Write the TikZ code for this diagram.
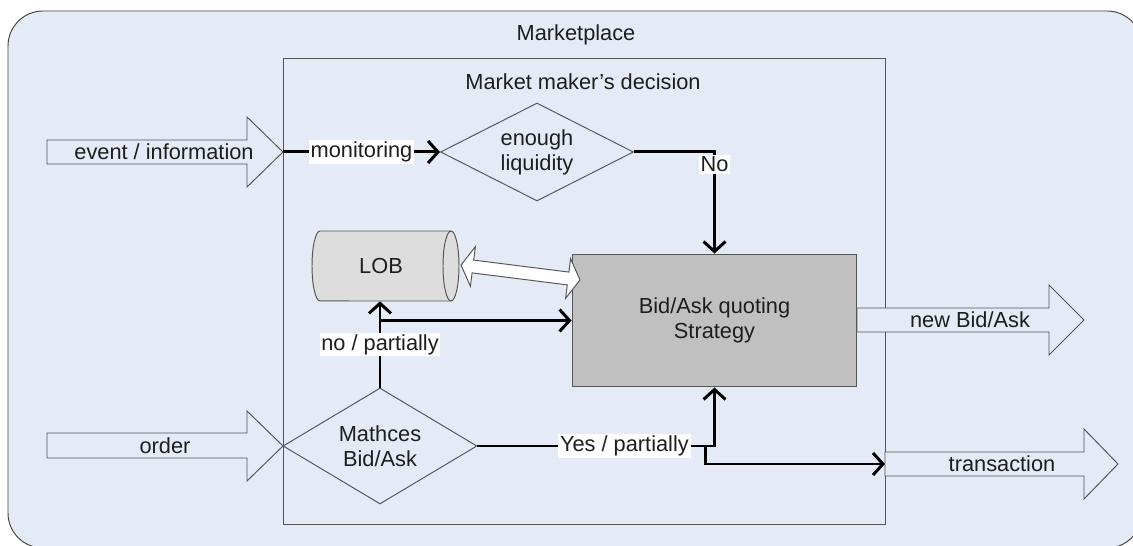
\documentclass[tikz,border=0pt]{standalone}
\usepackage{fontspec}
\setmainfont{Liberation Sans}
\usetikzlibrary{shapes.geometric,arrows.meta}
\definecolor{bgblue}{RGB}{228,235,246}
\definecolor{txt}{RGB}{30,30,30}
\definecolor{edge}{RGB}{85,85,85}
\definecolor{stratfill}{RGB}{192,192,192}
\definecolor{lobfill}{RGB}{221,221,221}
\begin{document}
\begin{tikzpicture}[x=0.02cm,y=-0.02cm,
  every node/.style={font=\fontsize{12.4pt}{14.2pt}\selectfont, text=txt},
  thin line/.style={draw=edge, line width=0.55pt},
  blockarrow/.style={thin line, fill=bgblue, line join=miter},
  conn/.style={line width=1.7pt, black, -{Straight Barb[length=0.2cm,width=0.44cm]}},
  plain conn/.style={line width=1.7pt, black},
  lbl/.style={fill=white, inner sep=1pt},
  decision/.style={diamond, thin line, aspect=1.7, inner sep=0pt, align=center},
  stratbox/.style={rectangle, draw=edge, line width=0.55pt, fill=stratfill, align=center}
]
\useasboundingbox (0,0) rectangle (1133,546);
\begin{scope}
  \clip (0,0) rectangle (1133,546);
  \draw[thin line, draw=edge!80!black, fill=bgblue, rounded corners=0.7cm] (8,11) rectangle (1142,548);
\end{scope}
\node (mkt) at (576,35) {Marketplace};
% inner decision box
\draw[thin line] (283,58) rectangle (885,524);
\node (mmd) at (583,82) {Market maker’s decision};

% block arrows in / out
\draw[blockarrow] (47,140) -- (247,140) -- (247,117) -- (283,152) -- (247,187) -- (247,164) -- (47,164) -- cycle;
\node (evt) at (164,152) {event / information};
\coordinate (evtip) at (283,152);

\draw[blockarrow] (47,433) -- (247,433) -- (247,411) -- (283,446) -- (247,481) -- (247,458) -- (47,458) -- cycle;
\node (ord) at (165,446) {order};

\draw[blockarrow] (857,308) -- (1049,308) -- (1049,285) -- (1084,320) -- (1049,355) -- (1049,332) -- (857,332) -- cycle;
\node (nba) at (970,320) {new Bid/Ask};

\draw[blockarrow] (885,452) -- (1084,452) -- (1084,429) -- (1118,464) -- (1084,499) -- (1084,476) -- (885,476) -- cycle;
\node (trn) at (1002,464) {transaction};
\coordinate (trin) at (885,464);

% decisions
\node[decision, minimum width=3.86cm, minimum height=1.96cm] (liq) at (537,152) {enough\\liquidity};
\node[decision, minimum width=3.88cm, minimum height=2.32cm] (match) at (380,446) {Mathces\\Bid/Ask};

% strategy box
\node[stratbox, minimum width=5.7cm, minimum height=2.66cm] (strat) at (714.5,320.5) {Bid/Ask quoting\\Strategy};

% LOB cylinder
\fill[lobfill] (451,231) -- (320,231) arc[start angle=90, end angle=270, x radius=0.16cm, y radius=0.7cm]
  -- (451,301) arc[start angle=270, end angle=450, x radius=0.16cm, y radius=0.7cm] -- cycle;
\draw[thin line] (451,231) -- (320,231) arc[start angle=90, end angle=270, x radius=0.16cm, y radius=0.7cm]
  -- (451,301);
\draw[thin line] (451,266) ellipse [x radius=0.16cm, y radius=0.7cm];
\node[minimum width=2.4cm, minimum height=1.4cm, inner sep=0pt] (lob) at (381,266) {LOB};

% double arrow LOB <-> strategy
\draw[blockarrow, fill=white] (461,265) -- (475.4,246.7) -- (473.7,260.1) -- (568.9,272.1) -- (570.6,258.7)
  -- (580,280) -- (565.6,298.3) -- (567.3,284.9) -- (472.1,272.9) -- (470.4,286.3) -- cycle;

% connectors
\draw[conn] (evtip) -- (liq.west) node[lbl, pos=0.5] {monitoring};
\draw[conn] (liq.east) -| (strat.north) node[lbl, pos=0.56] {No};
\draw[conn] (match.north) -- (match.north |- lob.south) node[lbl, pos=0.5] {no / partially};
\draw[conn] (match.north |- strat.west) -- (strat.west);
\draw[conn] (match.east) -| (strat.south) node[lbl, pos=0.31] {Yes / partially};
\coordinate (ysplit) at (705,446);
\draw[conn] (ysplit) |- (trin);
\end{tikzpicture}
\end{document}
